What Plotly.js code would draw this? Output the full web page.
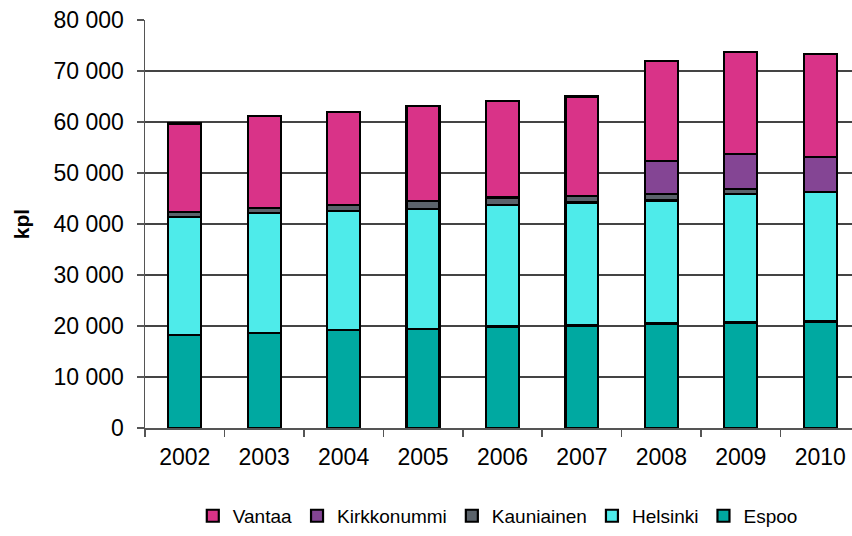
<!DOCTYPE html>
<html>
<head>
<meta charset="utf-8">
<script src="https://cdn.plot.ly/plotly-3.0.1.min.js"></script>
<style>html,body{margin:0;padding:0;background:#fff;}#chart{width:852px;height:536px;}</style>
</head>
<body>
<div id="chart"></div>
<script>
const years = ["2002","2003","2004","2005","2006","2007","2008","2009","2010"];
const espoo = [18200, 18700, 19200, 19400, 19900, 20100, 20500, 20700, 20900];
const helsinki = [23200, 23500, 23300, 23600, 23900, 24100, 24100, 25200, 25400];
const kauniainen = [1000, 1000, 1300, 1500, 1400, 1300, 1300, 1000, null];
const kirkkonummi = [null, null, null, null, null, null, 6500, 6900, 6800];
const vantaa = [17300, 18000, 18200, 18600, 18900, 19500, 19500, 19900, 20300];
const yTicks = [0, 10000, 20000, 30000, 40000, 50000, 60000, 70000, 80000];

const seriesDefs = [
  {name: "Espoo", y: espoo, color: "#00A9A1"},
  {name: "Helsinki", y: helsinki, color: "#4EEBEA"},
  {name: "Kauniainen", y: kauniainen, color: "#5B636B"},
  {name: "Kirkkonummi", y: kirkkonummi, color: "#844594"},
  {name: "Vantaa", y: vantaa, color: "#D93388"}
];

const data = seriesDefs.map(s => ({
  type: "bar",
  name: s.name,
  x: years,
  y: s.y,
  marker: {color: s.color, line: {color: "#000000", width: 2.2}},
  hoverinfo: "x+y+name"
}));

const layout = {
  width: 852,
  height: 536,
  margin: {l: 145, r: 0, t: 20, b: 108, pad: 0, autoexpand: false},
  paper_bgcolor: "#ffffff",
  plot_bgcolor: "#ffffff",
  barmode: "stack",
  bargap: 0.585,
  separators: ", ",
  font: {family: "Liberation Sans, Arial, sans-serif", size: 23, color: "#000000"},
  showlegend: true,
  legend: {
    orientation: "h",
    traceorder: "reversed",
    x: 0.499, xanchor: "center",
    y: -0.262, yanchor: "bottom",
    font: {size: 19, family: "Liberation Sans, Arial, sans-serif"},
    itemwidth: 30
  },
  xaxis: {
    type: "category",
    range: [-0.5, 8.4],
    showgrid: false,
    showline: true,
    linecolor: "#555555",
    linewidth: 1.5,
    ticks: "outside",
    tickson: "boundaries",
    ticklen: 7,
    tickcolor: "#555555",
    tickwidth: 1.5,
    tickfont: {size: 23},
    ticklabelstandoff: 8,
    fixedrange: true
  },
  yaxis: {
    range: [0, 80000],
    tickvals: yTicks,
    tickformat: ",d",
    showgrid: true,
    gridcolor: "#444444",
    gridwidth: 1.2,
    zeroline: false,
    showline: true,
    linecolor: "#555555",
    linewidth: 1.5,
    ticks: "outside",
    ticklen: 7,
    tickcolor: "#555555",
    tickwidth: 1.5,
    tickfont: {size: 23},
    ticklabelstandoff: 8,
    title: {text: "<b>kpl</b>", font: {size: 21}, standoff: 18},
    fixedrange: true
  }
};

Plotly.newPlot("chart", data, layout, {displayModeBar: false, staticPlot: true});
</script>
</body>
</html>
